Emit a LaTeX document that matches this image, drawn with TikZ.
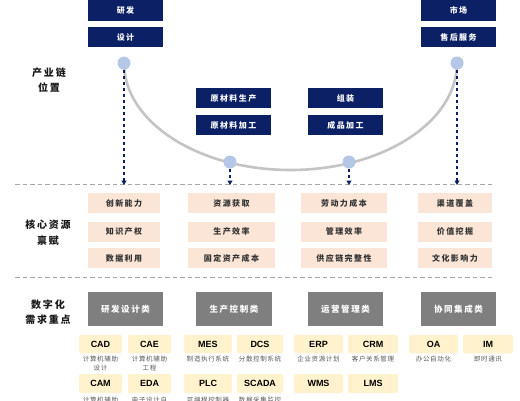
\documentclass[tikz,border=0pt]{standalone}
\usepackage{fontspec}
\newfontfamily\cjk[LetterSpace=18]{Noto Sans CJK SC}
\newfontfamily\cjksub[LetterSpace=10]{Noto Sans CJK SC}
\newfontfamily\lat{Liberation Sans}
\usetikzlibrary{arrows.meta}
\definecolor{navy}{HTML}{0C2165}
\definecolor{peach}{HTML}{FBE5D6}
\definecolor{ylw}{HTML}{FFF2CC}
\definecolor{gbox}{HTML}{7F7F7F}
\definecolor{dotc}{HTML}{B4C7E7}
\definecolor{curvec}{HTML}{C4C4C4}
\definecolor{sepc}{HTML}{A6A6A6}
\begin{document}
\begin{tikzpicture}[x=1pt,y=-1pt,
  navybox/.style={fill=navy,text=white,inner sep=0,minimum width=75,minimum height=20,font=\cjk\bfseries\fontsize{8}{10}\selectfont},
  peachbox/.style={fill=peach,text=black!80,inner sep=0,minimum height=20,font=\cjk\bfseries\fontsize{8}{10}\selectfont},
  graybox/.style={fill=gbox,text=white,inner sep=0,minimum width=75,minimum height=34,font=\cjk\bfseries\fontsize{8.5}{10}\selectfont},
  ybox/.style={fill=ylw,rounded corners=2,inner sep=0,minimum height=18.5,font=\lat\bfseries\fontsize{9}{10}\selectfont},
  subtxt/.style={anchor=north,inner sep=0,align=center,text=black!65,font=\cjksub\fontsize{6.5}{9}\selectfont},
  sidelabel/.style={align=center,inner sep=0,text=black!90,font=\cjk\bfseries\fontsize{10}{15.5}\selectfont},
  dotn/.style={circle,fill=dotc,minimum size=13,inner sep=0},
  curveline/.style={draw=curvec,line width=2.6},
  sepline/.style={draw=sepc,line width=0.8,dash pattern=on 4.5 off 3},
  arrowline/.style={draw=navy,line width=1.3,dash pattern=on 3.5 off 2.5,-{Triangle[length=4.5,width=5]}}
]
\clip (0,0) rectangle (520,400);
\fill[white] (0,0) rectangle (520,400);

% side labels
\node[sidelabel] (l1) at (49,80) {产业链\\位置};
\node[sidelabel] (l2) at (48,232.5) {核心资源\\禀赋};
\node[sidelabel] (l3) at (48,312) {数字化\\需求重点};

% top navy boxes
\node[navybox,minimum height=21] (rd) at (125.5,10.5) {研发};
\node[navybox] (sj) at (125.5,37) {设计};
\node[navybox,minimum height=21] (sc) at (458.5,10.5) {市场};
\node[navybox] (sh) at (458.5,37) {售后服务};
\node[navybox] (ys) at (233.5,98) {原材料生产};
\node[navybox] (yj) at (233.5,125) {原材料加工};
\node[navybox] (zz) at (345.5,98) {组装};
\node[navybox] (cp) at (345.5,125) {成品加工};

% smile curve
\draw[curveline] (124,63) arc[start angle=180,end angle=0,x radius=166.5,y radius=107];

% dots
\node[dotn] (d1) at (124,63) {};
\node[dotn] (d2) at (230,162) {};
\node[dotn] (d3) at (349,162) {};
\node[dotn] (d4) at (457,63) {};

% separators
\coordinate (s1l) at (15,184);
\coordinate (s1r) at (494,184);
\coordinate (s2l) at (15,277);
\coordinate (s2r) at (494,277);
\draw[sepline] (s1l) -- (s1r);
\draw[sepline] (s2l) -- (s2r);

% arrows
\coordinate (a1) at (124,185);
\coordinate (a2) at (230,185);
\coordinate (a3) at (349,185);
\coordinate (a4) at (457,185);
\draw[arrowline] (d1.south) -- (a1);
\draw[arrowline] (d2.south) -- (a2);
\draw[arrowline] (d3.south) -- (a3);
\draw[arrowline] (d4.south) -- (a4);

% core resources
\node[peachbox,minimum width=72] (p11) at (124,203) {创新能力};
\node[peachbox,minimum width=72] (p12) at (124,231.5) {知识产权};
\node[peachbox,minimum width=72] (p13) at (124,258) {数据利用};
\node[peachbox,minimum width=87] (p21) at (231.5,203) {资源获取};
\node[peachbox,minimum width=87] (p22) at (231.5,231.5) {生产效率};
\node[peachbox,minimum width=87] (p23) at (231.5,258) {固定资产成本};
\node[peachbox,minimum width=86] (p31) at (344,203) {劳动力成本};
\node[peachbox,minimum width=86] (p32) at (344,231.5) {管理效率};
\node[peachbox,minimum width=86] (p33) at (344,258) {供应链完整性};
\node[peachbox,minimum width=74] (p41) at (455,203) {渠道覆盖};
\node[peachbox,minimum width=74] (p42) at (455,231.5) {价值挖掘};
\node[peachbox,minimum width=74] (p43) at (455,258) {文化影响力};

% digital categories
\node[graybox] (g1) at (125.5,309) {研发设计类};
\node[graybox,minimum width=76] (g2) at (234,309) {生产控制类};
\node[graybox] (g3) at (345.5,309) {运营管理类};
\node[graybox] (g4) at (458.5,309) {协同集成类};

% yellow row 1
\node[ybox,minimum width=43] (cad) at (100.5,344) {CAD};
\node[ybox,minimum width=43] (cae) at (149.5,344) {CAE};
\node[ybox,minimum width=48] (mes) at (208,344) {MES};
\node[ybox,minimum width=46] (dcs) at (260,344) {DCS};
\node[ybox,minimum width=49] (erp) at (318.5,344) {ERP};
\node[ybox,minimum width=50] (crm) at (373,344) {CRM};
\node[ybox,minimum width=49] (oa) at (433.5,344) {OA};
\node[ybox,minimum width=50] (im) at (488,344) {IM};

\node[subtxt] (tcad) at (100.5,355.5) {计算机辅助\\设计};
\node[subtxt] (tcae) at (149.5,355.5) {计算机辅助\\工程};
\node[subtxt] (tmes) at (208,355.5) {制造执行系统};
\node[subtxt] (tdcs) at (260,355.5) {分散控制系统};
\node[subtxt] (terp) at (318.5,355.5) {企业资源计划};
\node[subtxt] (tcrm) at (373,355.5) {客户关系管理};
\node[subtxt] (toa) at (433.5,355.5) {办公自动化};
\node[subtxt] (tim) at (488,355.5) {即时通讯};

% yellow row 2
\node[ybox,minimum width=43,minimum height=19] (cam) at (100.5,383.5) {CAM};
\node[ybox,minimum width=43,minimum height=19] (eda) at (149.5,383.5) {EDA};
\node[ybox,minimum width=48,minimum height=19] (plc) at (208,383.5) {PLC};
\node[ybox,minimum width=46,minimum height=19] (scada) at (260,383.5) {SCADA};
\node[ybox,minimum width=49,minimum height=19] (wms) at (318.5,383.5) {WMS};
\node[ybox,minimum width=50,minimum height=19] (lms) at (373,383.5) {LMS};

\node[subtxt] (tcam) at (100.5,396.5) {计算机辅助\\制造};
\node[subtxt] (teda) at (149.5,396.5) {电子设计自\\动化};
\node[subtxt] (tplc) at (208,396.5) {可编程控制器};
\node[subtxt] (tscada) at (260,396.5) {数据采集监控};
\end{tikzpicture}
\end{document}
